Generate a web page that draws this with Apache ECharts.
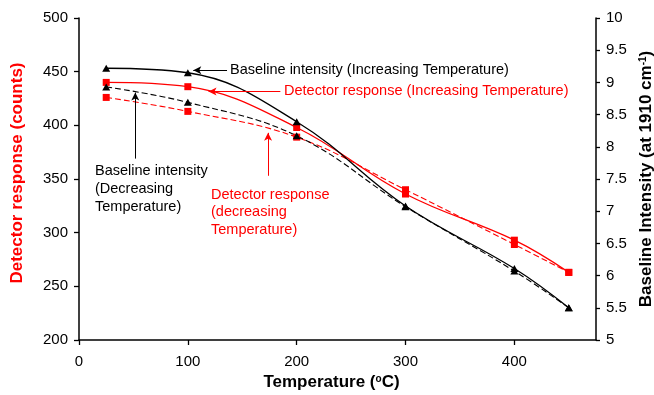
<!DOCTYPE html>
<html>
<head>
<meta charset="utf-8">
<script src="https://cdn.jsdelivr.net/npm/echarts@6/dist/echarts.min.js"></script>
<style>
html,body{margin:0;padding:0;background:#fff;}
#chart{width:654px;height:395px;}
</style>
</head>
<body>
<div id="chart"></div>
<script>
// Temperature (°C)
var temps = [25, 100, 200, 300, 400, 450];
// Detector response (counts), left axis
var detectorIncreasing = [440, 436, 398, 336, 293, 263];
var detectorDecreasing = [426, 413, 389, 340, 289, 263];
// Baseline intensity (at 1910 cm-1), right axis
var baselineIncreasing = [9.22, 9.15, 8.39, 7.08, 6.11, 5.5];
var baselineDecreasing = [8.93, 8.69, 8.17, 7.07, 6.07, 5.5];

var xTicks = [0, 100, 200, 300, 400];
var leftTicks = [200, 250, 300, 350, 400, 450, 500];
var rightTicks = [5, 5.5, 6, 6.5, 7, 7.5, 8, 8.5, 9, 9.5, 10];

// annotation arrows in data coords (left axis): [fromX, fromY, toX, toY]
var arrowBaselineInc = [136, 451.3, 105, 451.3];
var arrowDetectorInc = [185, 431.5, 119, 431.5];
var arrowBaselineDec = [51.7, 369, 51.7, 430.5];
var arrowDetectorDec = [173.7, 353, 173.7, 393];

function pairs(xs, ys) { return xs.map(function (x, i) { return [x, ys[i]]; }); }
function arrow(a, color) {
  return [{ coord: [a[0], a[1]], lineStyle: { color: color, width: 1, type: 'solid' } }, { coord: [a[2], a[3]] }];
}

var chart = echarts.init(document.getElementById('chart'), null, { renderer: 'canvas' });
var font = 'Liberation Sans, Arial, sans-serif';
var RED = '#ff0000';
var annFont = '14.5px ' + font;

chart.setOption({
  animation: false,
  textStyle: { fontFamily: font },
  grid: { left: 79, right: 58, top: 18, bottom: 55, containLabel: false, outerBoundsMode: 'none' },
  xAxis: {
    type: 'value', min: 0, max: 475, interval: 100,
    axisLine: { show: true, lineStyle: { color: '#000', width: 1.5 } },
    axisTick: { show: true, length: 5, lineStyle: { color: '#000', width: 1.3 }, customValues: xTicks },
    axisLabel: { color: '#000', fontSize: 15, margin: 14, customValues: xTicks, fontFamily: font },
    splitLine: { show: false },
    name: 'Temperature ({sup|o}C)',
    nameLocation: 'middle', nameGap: 34,
    nameTextStyle: {
      color: '#000', fontSize: 17, fontWeight: 'bold', fontFamily: font, padding: [0, 12, 0, 0],
      rich: { sup: { fontSize: 10, fontWeight: 'bold', verticalAlign: 'top', color: '#000', padding: [0, 0, 7, 0] } }
    }
  },
  yAxis: [{
    type: 'value', min: 200, max: 500, interval: 50, position: 'left',
    axisLine: { show: true, lineStyle: { color: '#000', width: 1.5 } },
    axisTick: { show: true, length: 5, lineStyle: { color: '#000', width: 1.3 } },
    axisLabel: { color: '#000', fontSize: 15, margin: 11, fontFamily: font },
    splitLine: { show: false },
    name: 'Detector response (counts)', nameLocation: 'middle', nameGap: 53, nameRotate: 90,
    nameTextStyle: { color: RED, fontSize: 17, fontWeight: 'bold', fontFamily: font, padding: [0, 0, 0, 12] }
  }, {
    type: 'value', min: 5, max: 10, interval: 0.5, position: 'right',
    axisLine: { show: true, lineStyle: { color: '#000', width: 1.5 } },
    axisTick: { show: true, length: 4, lineStyle: { color: '#000', width: 1.3 } },
    axisLabel: { color: '#000', fontSize: 15, margin: 10, fontFamily: font },
    splitLine: { show: false },
    name: 'Baseline Intensity (at 1910 cm{sup|-1})', nameLocation: 'middle', nameGap: 41, nameRotate: 90,
    nameTextStyle: {
      color: '#000', fontSize: 17, fontWeight: 'bold', fontFamily: font,
      rich: { sup: { fontSize: 10, fontWeight: 'bold', verticalAlign: 'top', color: '#000', padding: [0, 0, 7, 0] } }
    }
  }],
  series: [{
    name: 'Detector response (Increasing Temperature)', type: 'line', yAxisIndex: 0,
    data: pairs(temps, detectorIncreasing), smooth: 0.4,
    symbol: 'rect', symbolSize: 7,
    lineStyle: { color: RED, width: 1.3, type: 'solid' }, itemStyle: { color: RED },
    markLine: {
      silent: true, symbol: ['none', 'arrow'], symbolSize: [6, 8], label: { show: false },
      data: [arrow(arrowBaselineInc, '#000'), arrow(arrowDetectorInc, RED), arrow(arrowBaselineDec, '#000'), arrow(arrowDetectorDec, RED)]
    }
  }, {
    name: 'Detector response (decreasing Temperature)', type: 'line', yAxisIndex: 0,
    data: pairs(temps, detectorDecreasing), smooth: 0.4,
    symbol: 'rect', symbolSize: 7,
    lineStyle: { color: RED, width: 1.1, type: [6, 3] }, itemStyle: { color: RED }
  }, {
    name: 'Baseline intensity (Increasing Temperature)', type: 'line', yAxisIndex: 1,
    data: pairs(temps, baselineIncreasing), smooth: 0.4,
    symbol: 'triangle', symbolSize: [8, 7],
    lineStyle: { color: '#000', width: 1.3, type: 'solid' }, itemStyle: { color: '#000' }
  }, {
    name: 'Baseline intensity (Decreasing Temperature)', type: 'line', yAxisIndex: 1,
    data: pairs(temps, baselineDecreasing), smooth: 0.4,
    symbol: 'triangle', symbolSize: [8, 7],
    lineStyle: { color: '#000', width: 1.1, type: [6, 3] }, itemStyle: { color: '#000' }
  }],
  graphic: [
    { type: 'text', left: 230, top: 61, style: { text: 'Baseline intensity (Increasing Temperature)', fill: '#000', font: annFont, lineHeight: 18 } },
    { type: 'text', left: 284, top: 82, style: { text: 'Detector response (Increasing Temperature)', fill: RED, font: annFont, lineHeight: 18 } },
    { type: 'text', left: 95, top: 162, style: { text: 'Baseline intensity\n(Decreasing\nTemperature)', fill: '#000', font: annFont, lineHeight: 18 } },
    { type: 'text', left: 211, top: 186, style: { text: 'Detector response\n(decreasing\nTemperature)', fill: RED, font: annFont, lineHeight: 17.5 } }
  ]
});
</script>
</body>
</html>
